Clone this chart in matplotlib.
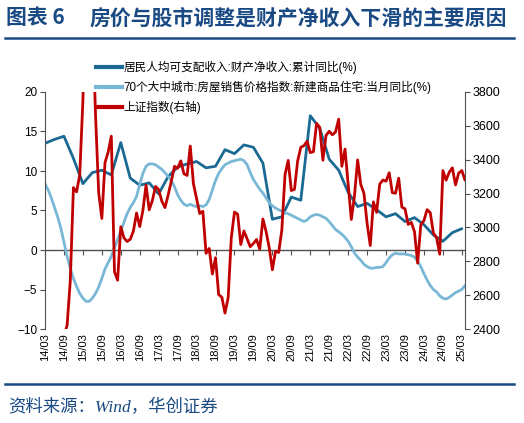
import matplotlib
matplotlib.use('Agg')
import matplotlib.pyplot as plt
from matplotlib.lines import Line2D
import numpy as np
import pandas as pd

# ---------------- data ----------------
months = pd.period_range('2014-03', '2025-04', freq='M')
tick_months = months[:133:6]
tick_labels = [f"{p.year % 100:02d}/{p.month:02d}" for p in tick_months]

series_names = ['居民人均可支配收入:财产净收入:累计同比(%)',
                '70个大中城市:房屋销售价格指数:新建商品住宅:当月同比(%)',
                '上证指数(右轴)']

# quarterly (cumulative YoY), 2014/03 ... 2025/03
income_months = months[:133:3]
income_yoy = [13.5, 14.0, 14.4, 11.6, 8.4, 9.8, 10.1, 9.5, 13.6, 9.1, 8.2, 8.5,
              7.1, 9.3, 10.5, 10.9, 11.2, 10.4, 10.6, 12.7, 12.2, 13.3, 13.0, 11.0,
              3.9, 4.2, 6.7, 6.3, 17.0, 15.4, 11.5, 10.1, 7.3, 5.5, 5.9, 5.1,
              4.2, 4.6, 3.6, 4.1, 3.2, 1.9, 1.1, 2.2, 2.7]

# monthly, 2014/03 ... 2025/04
house_price_yoy = [8.4, 7.6, 6.6, 5.4, 4.2, 2.8, 1.0, -0.8, -2.3, -3.6,
                   -4.6, -5.5, -6.1, -6.5, -6.5, -6.1, -5.5, -4.7, -3.6, -2.4,
                   -1.6, -0.8, 0.3, 1.3, 2.4, 3.5, 4.6, 5.4, 6.0, 6.8,
                   8.3, 9.7, 10.6, 10.9, 10.9, 10.8, 10.5, 10.2, 9.8, 9.3,
                   8.8, 8.0, 7.0, 6.3, 5.8, 5.6, 5.8, 5.6, 5.5, 5.6,
                   5.5, 5.7, 6.4, 7.6, 8.8, 9.7, 10.3, 10.8, 11.0, 11.2,
                   11.3, 11.4, 11.5, 11.3, 10.8, 9.8, 8.9, 8.3, 7.7, 7.2,
                   6.6, 6.0, 5.6, 5.3, 5.1, 4.9, 4.7, 4.6, 4.4, 4.2,
                   4.0, 3.8, 3.6, 3.8, 4.2, 4.4, 4.5, 4.4, 4.2, 4.0,
                   3.6, 3.1, 2.6, 2.3, 2.0, 1.6, 1.1, 0.4, -0.4, -0.9,
                   -1.3, -1.8, -2.1, -2.3, -2.3, -2.2, -2.2, -2.1, -1.6, -1.0,
                   -0.6, -0.4, -0.5, -0.5, -0.5, -0.6, -0.7, -0.9, -1.4, -2.1,
                   -3.0, -3.8, -4.5, -5.0, -5.3, -5.8, -6.1, -6.2, -6.0, -5.7,
                   -5.4, -5.2, -5.0, -4.5]

shanghai_index = [2033, 2026, 2039, 2048, 2201, 2217, 2364, 2420, 2683, 3235,
                  3210, 3310, 3748, 4442, 4612, 4277, 3664, 3206, 3053, 3383, 3445, 3539,
                  2738, 2688, 3004, 2938, 2917, 2930, 2979, 3085, 3005, 3100, 3250, 3104,
                  3159, 3242, 3223, 3155, 3117, 3192, 3273, 3361, 3349, 3393, 3317, 3307,
                  3481, 3259, 3169, 3082, 3095, 2847, 2876, 2725, 2821, 2603, 2588, 2494,
                  2585, 2941, 3091, 3078, 2899, 2979, 2933, 2886, 2905, 2929, 2872, 3050,
                  2977, 2880, 2750, 2860, 2852, 2985, 3310, 3396, 3218, 3225, 3392, 3473,
                  3483, 3509, 3442, 3447, 3615, 3591, 3397, 3544, 3568, 3547, 3564, 3640,
                  3361, 3463, 3252, 3047, 3186, 3399, 3253, 3202, 3024, 2893, 3151, 3089,
                  3256, 3280, 3273, 3323, 3205, 3202, 3291, 3120, 3110, 3018, 3030, 2975,
                  2789, 3015, 3041, 3105, 3087, 2967, 2939, 2842, 3336, 3279, 3326, 3352,
                  3251, 3321, 3336, 3279]

# ---------------- styling ----------------
C_DARK = '#1b6a94'
C_LIGHT = '#78b8d6'
C_RED = '#c00000'
C_TITLE = '#1a4a84'
C_AXIS = '#505050'
CJK = ['Noto Sans CJK SC', 'DejaVu Sans']
LAT = ['Liberation Sans', 'Noto Sans CJK SC']

W, H = 524, 423
fig = plt.figure(figsize=(W / 100, H / 100), dpi=100)

def fx(px):
    return px / W

def fy(py):
    return 1 - py / H

ax = fig.add_axes([fx(45), fy(329), fx(465) - fx(45), fy(92) - fy(329)])
ax2 = ax.twinx()

start = months[0]
x_all = np.array([(p - start).n for p in months])
x_inc = np.array([(p - start).n for p in income_months])
x_ticks = np.array([(p - start).n for p in tick_months])

ax.plot(x_inc, income_yoy, color=C_DARK, lw=2.0, solid_joinstyle='round',
        solid_capstyle='round', label=series_names[0])
ax.plot(x_all, house_price_yoy, color=C_LIGHT, lw=2.0, solid_joinstyle='round',
        solid_capstyle='round', label=series_names[1])
ax2.plot(x_all, shanghai_index, color=C_RED, lw=2.0, solid_joinstyle='round',
         solid_capstyle='round', label=series_names[2])

ax.set_xlim(0, 133)
ax.set_ylim(-10, 20)
ax.set_yticks(np.arange(-10, 21, 5))
ax2.set_ylim(2400, 3800)
ax2.set_yticks(np.arange(2400, 3801, 200))

for a in (ax, ax2):
    a.patch.set_visible(False)
    a.spines['top'].set_visible(False)
    a.spines['bottom'].set_visible(False)
ax.spines['right'].set_visible(False)
ax.spines['left'].set_color(C_AXIS)
ax2.spines['left'].set_visible(False)
ax2.spines['right'].set_color(C_AXIS)

ax.tick_params(axis='y', direction='out', length=3.5, width=0.8, color=C_AXIS,
               labelsize=8.5, pad=2)
ax2.tick_params(axis='y', direction='out', length=3.5, width=0.8, color=C_AXIS,
                labelsize=9, pad=2)
for lab in ax.get_yticklabels() + ax2.get_yticklabels():
    lab.set_fontfamily('Liberation Sans')

# x tick labels at the bottom of the plot area
ax.set_xticks(x_ticks)
ax.set_xticklabels(tick_labels, rotation=90, fontsize=8, fontfamily='Liberation Sans')
ax.tick_params(axis='x', length=0, pad=3)

# zero line carrying the tick marks
zero_ax = ax.secondary_xaxis(1 / 3)
zero_ax.set_xticks(x_ticks)
zero_ax.set_xticklabels([])
zero_ax.tick_params(axis='x', direction='out', length=3.5, width=0.8, color=C_AXIS)
zero_ax.spines['bottom'].set_color(C_AXIS)
zero_ax.spines['bottom'].set_linewidth(1.0)
zero_ax.spines['top'].set_visible(False)

# legend
handles = [Line2D([], [], color=C_DARK, lw=3),
           Line2D([], [], color=C_LIGHT, lw=3),
           Line2D([], [], color=C_RED, lw=3)]
leg = fig.legend(handles, series_names, loc='upper left',
                 bbox_to_anchor=(fx(96), fy(61)), frameon=False,
                 prop={'family': LAT, 'size': 8.4}, handlelength=2.2,
                 handletextpad=0.15, labelspacing=0.6, borderpad=0,
                 borderaxespad=0)
leg.set_zorder(10)

# title and rules
fig.text(fx(6), fy(18), '图表 6', fontsize=15, fontweight='bold', color=C_TITLE,
         family=CJK, ha='left', va='center')
fig.text(fx(90), fy(18), '房价与股市调整是财产净收入下滑的主要原因',
         fontsize=15, fontweight='bold', color=C_TITLE, family=CJK,
         ha='left', va='center')
fig.add_artist(Line2D([fx(5), fx(514)], [fy(38.5), fy(38.5)], color=C_TITLE, lw=1.8))
fig.add_artist(Line2D([fx(5), fx(514)], [fy(383.5), fy(383.5)], color=C_TITLE, lw=1.8))
fig.text(fx(8), fy(408), '资料来源：Wind，华创证券', fontsize=12.5, style='italic',
         color=C_TITLE, family=['Liberation Serif', 'Noto Sans CJK SC'],
         ha='left', va='center')

fig.savefig('out.png', dpi=100)
